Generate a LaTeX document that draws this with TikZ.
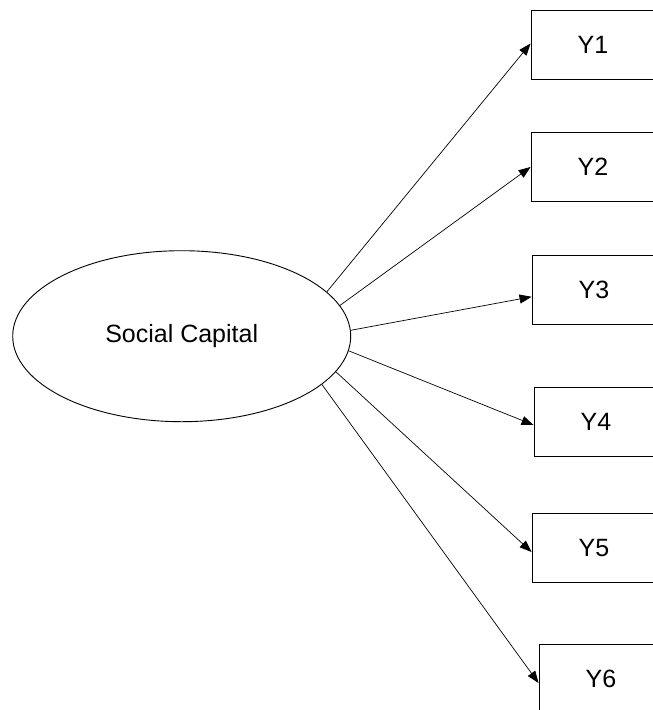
\documentclass[tikz,border=0pt]{standalone}
\usepackage{fontspec}
\setmainfont{Liberation Sans}
\usetikzlibrary{arrows.meta,shapes.geometric}
\begin{document}
\begin{tikzpicture}[x=1pt, y=-1pt, line width=0.9pt,
  lat/.style={ellipse, draw, minimum width=338pt, minimum height=171pt, inner sep=0pt, font=\fontsize{25}{30}\selectfont},
  obs/.style={rectangle, draw, minimum width=124pt, minimum height=69pt, inner sep=0pt, font=\fontsize{25}{30}\selectfont},
  arr/.style={-{Triangle[length=12pt, width=9pt]}, line width=0.7pt}]
\path[use as bounding box, clip] (0,0) rectangle (653,710);
\node[lat] (lid0) at (181.7,336.2){Social Capital};
\node[obs] (yid1) at (593,44.5){Y1};
\node[obs] (yid2) at (593,167){Y2};
\node[obs] (yid3) at (594,290.3){Y3};
\node[obs] (yid4) at (596,422){Y4};
\node[obs] (yid5) at (594,548){Y5};
\node[obs] (yid6) at (601,678.5){Y6};
\draw[arr](lid0.17.6) -- ([yshift=1pt]yid1.west);
\draw[arr](lid0.11.2) -- (yid2.west);
\draw[arr](lid0.2.7) -- ([yshift=-6.5pt]yid3.west);
\draw[arr](lid0.-5.7) -- ([yshift=-3pt]yid4.west);
\draw[arr](lid0.-13.5) -- ([yshift=-4pt]yid5.west);
\draw[arr](lid0.-19.2) -- ([yshift=-4.5pt]yid6.west);
\end{tikzpicture}
\end{document}
